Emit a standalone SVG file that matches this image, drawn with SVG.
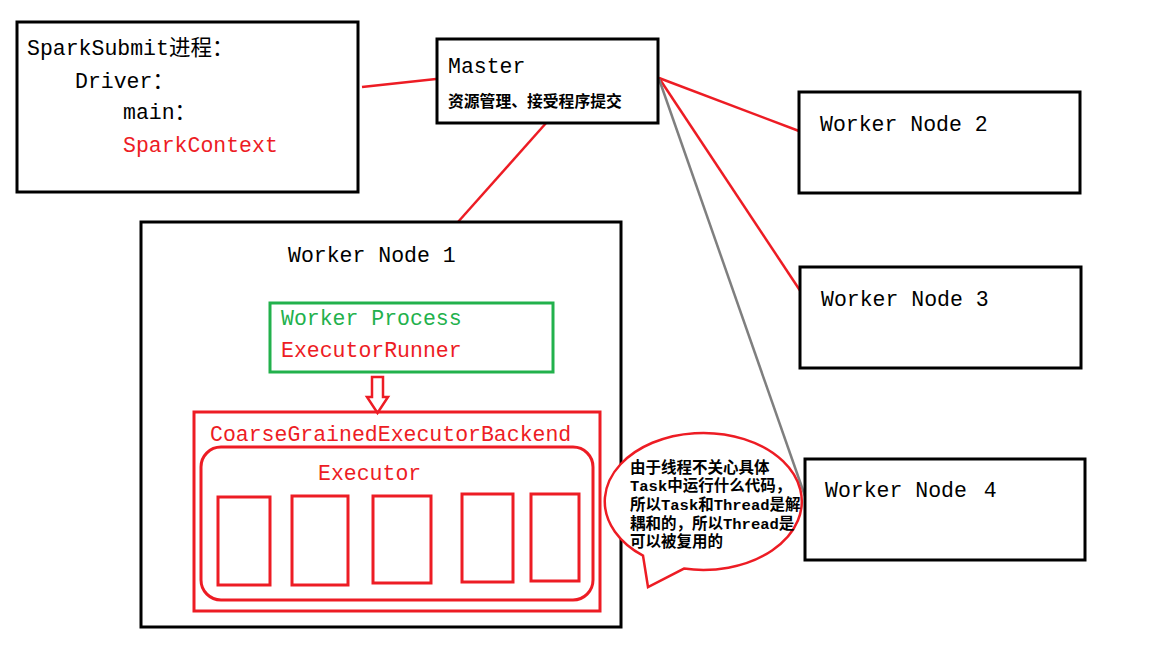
<svg xmlns="http://www.w3.org/2000/svg" width="1161" height="662" viewBox="0 0 1161 662">
<style>
.bk{fill:#fff;stroke:#000;stroke-width:3}
.rd{fill:none;stroke:#ED1C24;stroke-width:3}
.t{font-family:"Liberation Mono","Noto Sans CJK SC",monospace;font-size:21.5px;fill:#000}
.r{fill:#ED1C24}
.g{fill:#22B14C}
.cn{font-family:"Liberation Mono","Noto Sans CJK SC",monospace;font-weight:bold;fill:#000}
.ln{stroke:#ED1C24;stroke-width:2.5;fill:none}
</style>
<rect width="1161" height="662" fill="#fff"/>
<g id="connectors">
<line class="ln" x1="362" y1="87" x2="436" y2="79"/>
<line class="ln" x1="547" y1="122" x2="458" y2="222"/>
<line class="ln" x1="659" y1="78" x2="799" y2="131"/>
<line class="ln" x1="659" y1="78" x2="801" y2="292"/>
<line x1="659" y1="79" x2="805" y2="496" stroke="#7F7F7F" stroke-width="2.5"/>
</g>
<g id="sparksubmit">
<rect class="bk" x="17" y="22" width="341" height="170"/>
<text class="t" x="27" y="55">SparkSubmit进程：</text>
<text class="t" x="75" y="88">Driver：</text>
<text class="t" x="123" y="119">main：</text>
<text class="t r" x="123" y="152">SparkContext</text>
</g>
<g id="master">
<rect class="bk" x="437" y="39" width="221" height="84"/>
<text class="t" x="448" y="73">Master</text>
<text class="cn" x="448" y="107" font-size="15.8">资源管理、接受程序提交</text>
</g>
<g id="worker2">
<rect class="bk" x="799" y="92" width="281" height="101"/>
<text class="t" x="820" y="131">Worker Node 2</text>
</g>
<g id="worker3">
<rect class="bk" x="800" y="267" width="281" height="101"/>
<text class="t" x="821" y="306">Worker Node 3</text>
</g>
<g id="worker4">
<rect class="bk" x="805" y="459" width="280" height="101"/>
<text class="t" x="825" y="497">Worker Node <tspan dx="4">4</tspan></text>
</g>
<g id="worker1">
<rect class="bk" x="141" y="222" width="480" height="405"/>
<text class="t" x="288" y="262">Worker Node 1</text>
</g>
<g id="workerprocess">
<rect x="270" y="303" width="283" height="69" fill="none" stroke="#22B14C" stroke-width="3"/>
<text class="t g" x="281" y="325">Worker Process</text>
<text class="t r" x="281" y="357">ExecutorRunner</text>
</g>
<g id="arrow">
<path d="M372,377 H383 V397 H388 L377.5,413 L367,397 H372 Z" fill="#fff" stroke="#ED1C24" stroke-width="2.5"/>
</g>
<g id="backend">
<rect class="rd" x="194" y="412" width="406" height="199"/>
<text class="t r" x="210" y="441">CoarseGrainedExecutorBackend</text>
</g>
<g id="executor">
<rect class="rd" x="201" y="447" width="392" height="153" rx="20"/>
<text class="t r" x="318" y="480">Executor</text>
<rect class="rd" x="218" y="497" width="52" height="88"/>
<rect class="rd" x="292" y="496" width="56" height="89"/>
<rect class="rd" x="373" y="496" width="58" height="87"/>
<rect class="rd" x="462" y="494" width="51" height="88"/>
<rect class="rd" x="531" y="494" width="48" height="87"/>
</g>
<g id="bubble">
<path d="M643,555.6 A98.5,68.5 0 1 1 684,568.6 L648,587 Z" fill="#fff" stroke="#ED1C24" stroke-width="2.5"/>
<g class="cn r" font-size="15.5">
<text x="630" y="473">由于线程不关心具体</text>
<text x="630" y="491">Task中运行什么代码，</text>
<text x="630" y="510">所以Task和Thread是解</text>
<text x="630" y="529">耦和的，所以Thread是</text>
<text x="630" y="547">可以被复用的</text>
</g>
</g>
</svg>
